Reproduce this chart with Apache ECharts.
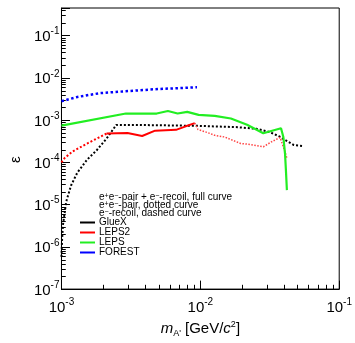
<!DOCTYPE html>
<html>
<head>
<meta charset="utf-8">
<script src="https://cdn.jsdelivr.net/npm/echarts@6/dist/echarts.min.js"></script>
<style>html,body{margin:0;padding:0;background:#fff;}</style>
</head>
<body>
<div id="chart" style="width:355px;height:343px;"></div>
<script>
  // GlueX, dotted
  const gluexMass = [1.0e-3, 1.01e-3, 1.025e-3, 1.08e-3, 1.17e-3, 1.30e-3, 1.53e-3, 1.80e-3, 2.11e-3, 2.48e-3, 4.4e-3, 9.7e-3, 1.85e-2, 2.55e-2, 3.16e-2, 3.71e-2, 4.13e-2, 4.72e-2, 5.54e-2];
  const gluexEps = [5.8e-7, 1.5e-6, 3.3e-6, 1.15e-5, 2.8e-5, 5.7e-5, 1.16e-4, 1.96e-4, 3.64e-4, 7.7e-4, 7.6e-4, 7.3e-4, 6.8e-4, 6.2e-4, 5.2e-4, 4.1e-4, 3.3e-4, 2.56e-4, 2.43e-4];

  // LEPS2: pair part at low mass (dotted), full curve (solid), pair part at high mass (dotted)
  const leps2LowMass = [1.0e-3, 1.05e-3, 1.20e-3, 1.53e-3, 1.85e-3, 2.11e-3];
  const leps2LowEps = [1.0e-4, 1.25e-4, 1.80e-4, 2.79e-4, 3.84e-4, 4.8e-4];
  const leps2FullMass = [2.11e-3, 2.99e-3, 3.81e-3, 4.72e-3, 6.68e-3, 7.76e-3, 9.12e-3];
  const leps2FullEps = [4.8e-4, 4.93e-4, 4.2e-4, 5.62e-4, 5.87e-4, 7.03e-4, 8.5e-4];
  const leps2HighMass = [9.12e-3, 9.61e-3, 1.14e-2, 1.27e-2, 1.49e-2, 1.95e-2, 2.17e-2, 2.84e-2, 3.25e-2, 3.75e-2, 4.02e-2, 4.2e-2];
  const leps2HighEps = [8.5e-4, 6.0e-4, 5.0e-4, 4.36e-4, 4.0e-4, 2.8e-4, 2.7e-4, 2.34e-4, 3.05e-4, 3.88e-4, 2.0e-4, 1.26e-4];

  // LEPS, solid
  const lepsMass = [1.0e-3, 2.91e-3, 4.85e-3, 5.84e-3, 6.86e-3, 8.05e-3, 9.72e-3, 1.27e-2, 1.66e-2, 2.17e-2, 2.84e-2, 3.81e-2, 3.96e-2, 4.07e-2, 4.13e-2, 4.2e-2];
  const lepsEps = [7.4e-4, 1.43e-3, 1.43e-3, 1.64e-3, 1.43e-3, 1.56e-3, 1.33e-3, 1.26e-3, 1.09e-3, 7.8e-4, 4.9e-4, 6.4e-4, 4.0e-4, 1.64e-4, 6.8e-5, 2.2e-5];

  // FOREST, dotted
  const forestMass = [1.0e-3, 1.30e-3, 1.61e-3, 1.90e-3, 2.76e-3, 4.72e-3, 9.46e-3];
  const forestEps = [2.8e-3, 3.52e-3, 3.98e-3, 4.35e-3, 4.76e-3, 5.38e-3, 5.99e-3];

  const legendNames = ['GlueX', 'LEPS2', 'LEPS', 'FOREST'];
  const legendHeader = [
    '{n|e}{s|+}{n|e}{s|−}{n|-pair + e}{s|−}{n|-recoil, full curve}',
    '{n|e}{s|+}{n|e}{s|−}{n|-pair, dotted curve}',
    '{n|e}{s|−}{n|-recoil, dashed curve}'
  ];

  const font = 'Liberation Sans, Arial, Helvetica, sans-serif';

  function zip(xs, ys) {
    return xs.map((x, i) => [x, ys[i]]);
  }

  function powLabel(v) {
    const e = Math.log10(v);
    const r = Math.round(e);
    if (Math.abs(e - r) > 1e-6) return '';
    return '{b|10}{s|' + r + '}';
  }

  const powRich = {
    b: {fontSize: 15, lineHeight: 18, fontFamily: font, color: '#000', verticalAlign: 'bottom'},
    s: {fontSize: 10, lineHeight: 10, fontFamily: font, color: '#000', verticalAlign: 'top'}
  };

  const chart = echarts.init(document.getElementById('chart'));

  const option = {
    animation: false,
    backgroundColor: '#fff',
    grid: {
      left: 58, right: 10, top: 8, bottom: 47,
      show: true, borderColor: '#000', borderWidth: 1
    },
    legend: {
      data: legendNames,
      orient: 'vertical',
      left: 80, top: 217.5,
      padding: 0, itemGap: 0,
      icon: 'rect', itemWidth: 15, itemHeight: 2,
      selectedMode: false,
      textStyle: {fontSize: 10, lineHeight: 8.3, fontFamily: font, color: '#000', padding: [0, 0, 0, -1]}
    },
    xAxis: {
      type: 'log', logBase: 10, min: 0.001, max: 0.1,
      name: "{i|m}{sub|A'}{n| [GeV/}{i|c}{sup|2}{n|]}",
      nameLocation: 'middle', nameGap: 23,
      nameTextStyle: {
        rich: {
          n: {fontSize: 15, lineHeight: 18, fontFamily: font, color: '#000'},
          i: {fontSize: 15, lineHeight: 18, fontFamily: font, fontStyle: 'italic', color: '#000'},
          sub: {fontSize: 9, lineHeight: 9, fontFamily: font, color: '#000', verticalAlign: 'bottom'},
          sup: {fontSize: 9, lineHeight: 9, fontFamily: font, color: '#000', verticalAlign: 'top'}
        }
      },
      axisLine: {lineStyle: {color: '#000', width: 1}},
      axisTick: {inside: true, length: 8.5, lineStyle: {color: '#000'}},
      axisLabel: {margin: 8, formatter: powLabel, rich: powRich},
      splitLine: {show: false}
    },
    yAxis: {
      type: 'log', logBase: 10, min: 1e-7, max: 0.45,
      name: 'ε',
      nameLocation: 'middle', nameGap: 37, nameRotate: 90,
      nameTextStyle: {fontSize: 15, fontFamily: font, color: '#000', padding: [0, 22, 0, 0]},
      axisLine: {lineStyle: {color: '#000', width: 1}},
      axisTick: {inside: true, length: 8.5, lineStyle: {color: '#000'}},
      axisLabel: {margin: 2, formatter: powLabel, rich: powRich},
      splitLine: {show: false}
    },
    series: [
      {
        name: 'GlueX', type: 'line', symbol: 'none',
        data: zip(gluexMass, gluexEps),
        itemStyle: {color: '#000'},
        lineStyle: {color: '#000', width: 2, type: [2, 2]}
      },
      {
        name: 'LEPS2', type: 'line', symbol: 'none',
        data: zip(leps2LowMass, leps2LowEps),
        itemStyle: {color: '#ff0000'},
        lineStyle: {color: '#ff0000', width: 2, type: [2, 2]}
      },
      {
        name: 'LEPS2', type: 'line', symbol: 'none',
        data: zip(leps2FullMass, leps2FullEps),
        itemStyle: {color: '#ff0000'},
        lineStyle: {color: '#ff0000', width: 2}
      },
      {
        name: 'LEPS2', type: 'line', symbol: 'none',
        data: zip(leps2HighMass, leps2HighEps),
        itemStyle: {color: '#ff0000'},
        lineStyle: {color: '#ff4444', width: 1.5, type: [1.5, 1.5]}
      },
      {
        name: 'LEPS', type: 'line', symbol: 'none',
        data: zip(lepsMass, lepsEps),
        itemStyle: {color: '#22ee22'},
        lineStyle: {color: '#22ee22', width: 2.2}
      },
      {
        name: 'FOREST', type: 'line', symbol: 'none',
        data: zip(forestMass, forestEps),
        itemStyle: {color: '#0000ff'},
        lineStyle: {color: '#0000ff', width: 2.5, type: [2.5, 2.5]}
      }
    ]
  };

  chart.setOption(option);

  // legend header lines and minor ticks of the log axes (2..9 in each decade), placed through the axis scales
  const graphics = [];
  const headerY = [197.3, 205, 213.3];
  legendHeader.forEach((t, i) => {
    graphics.push({
      type: 'text', x: 99, y: headerY[i], silent: true,
      style: {
        text: t, verticalAlign: 'middle', fill: '#000',
        rich: {
          n: {fontSize: 10, lineHeight: 9, fontFamily: font, fill: '#000'},
          s: {fontSize: 7, lineHeight: 6, fontFamily: font, fill: '#000', verticalAlign: 'top'}
        }
      }
    });
  });

  const base = chart.convertToPixel({gridIndex: 0}, [0.001, 1e-7]);
  for (let k = -3; k <= -2; k++) {
    for (let n = 2; n <= 9; n++) {
      const px = Math.round(chart.convertToPixel({xAxisIndex: 0}, n * Math.pow(10, k))) + 0.5;
      graphics.push({type: 'line', silent: true, shape: {x1: px, y1: base[1], x2: px, y2: base[1] - 4.3}, style: {stroke: '#000', lineWidth: 1}});
    }
  }
  for (let k = -7; k <= -1; k++) {
    for (let n = 2; n <= 9; n++) {
      const v = n * Math.pow(10, k);
      if (v > 0.45) continue;
      const py = Math.round(chart.convertToPixel({yAxisIndex: 0}, v)) + 0.5;
      graphics.push({type: 'line', silent: true, shape: {x1: base[0], y1: py, x2: base[0] + 4.3, y2: py}, style: {stroke: '#000', lineWidth: 1}});
    }
  }
  chart.setOption({graphic: graphics});
</script>
</body>
</html>
